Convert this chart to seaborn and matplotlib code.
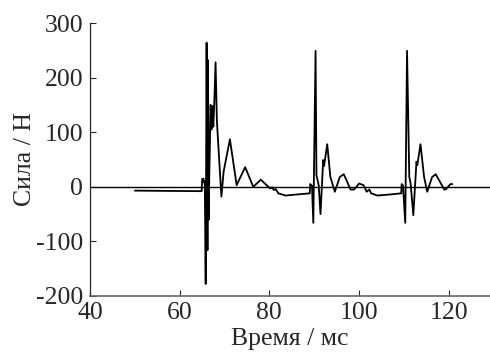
import matplotlib
matplotlib.use("Agg")
import matplotlib.pyplot as plt
import seaborn as sns
import pandas as pd

# force trace (time in ms, force in N)
time_ms = [50.0, 57.0, 64.9, 65.0, 65.3, 65.4, 65.6, 65.8, 66.0, 66.2, 66.3,
           66.5, 66.6, 66.9, 67.1, 67.3, 67.5, 67.7, 68.0, 68.3, 69.3, 69.8,
           71.2, 72.7, 74.6, 76.4, 78.1, 79.5, 80.2, 80.6, 81.0, 81.4, 82.0,
           83.6, 86.2, 89.0, 89.1, 89.5, 89.8, 90.3, 90.5, 91.0, 91.4, 92.0,
           92.2, 92.9, 93.6, 94.6, 95.7, 96.6, 98.1, 98.9, 100.0, 101.0,
           101.7, 102.3, 102.7, 104.1, 107.0, 109.4, 109.5, 109.8, 110.3,
           110.7, 111.2, 111.5, 112.1, 112.8, 113.0, 113.7, 114.5, 115.2,
           116.3, 117.1, 119.0, 119.3, 120.4, 120.8]
force_n = [-7, -7.5, -8, 14, 15, 8, 10, -178, 264, -116, 232,
           -60, 20, 150, 105, 148, 110, 150, 228, 120, -18, 28,
           87, 3, 36, 0, 13, 2, -3, -1, -6, -4, -12,
           -16, -14, -12, 5, 2, -66, 249, 21, 3, -50, 49,
           38, 78, 18, -9, 18, 23, -5, -5, 6, 3,
           -9, -5, -12, -16, -14, -12, 5, 2, -66,
           249, 18, 6, -52, 46, 40, 78, 18, -9,
           18, 23, -5, -5, 5, 5]

x_ticks = [40, 60, 80, 100, 120]
y_ticks = [-200, -100, 0, 100, 200, 300]

df = pd.DataFrame({"t": time_ms, "f": force_n})

sns.set_style("ticks")
plt.rcParams["font.family"] = ["Liberation Serif", "DejaVu Serif"]
plt.rcParams["axes.unicode_minus"] = False

fig = plt.figure(figsize=(4.9, 3.56), dpi=100)
ax = fig.add_axes([90 / 490, 60 / 356, 400 / 490, 273 / 356])

ax.axhline(0, color="black", lw=1.0, zorder=1)
sns.lineplot(data=df, x="t", y="f", ax=ax, color="black", lw=1.3,
             estimator=None, sort=False)

ax.set_xlim(40, 129.2)
ax.set_ylim(-200, 300)
ax.set_xticks(x_ticks)
ax.set_yticks(y_ticks)
ax.tick_params(direction="in", length=4, width=0.8, labelsize=18.5)
ax.tick_params(axis="x", pad=4)
ax.tick_params(axis="y", pad=5)
ax.set_xlabel("Время / мс", fontsize=18.5, labelpad=3)
ax.set_ylabel("Сила / Н", fontsize=18.5, labelpad=0)

sns.despine(ax=ax)
ax.spines["left"].set_linewidth(0.9)
ax.spines["bottom"].set_linewidth(1.2)
ax.spines["bottom"].set_color("#666666")

fig.savefig("out.png", dpi=100)
